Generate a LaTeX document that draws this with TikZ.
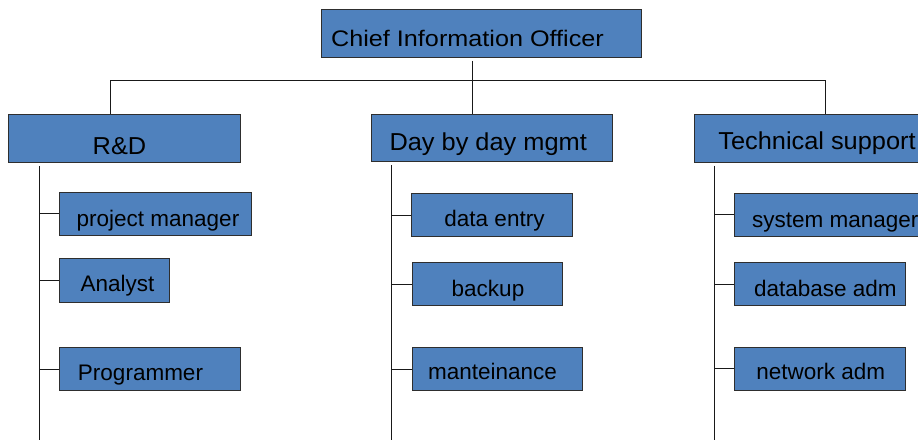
\documentclass[tikz,border=0pt]{standalone}
\usepackage{fontspec}
\setmainfont{Liberation Sans}
\newfontfamily\topfont{Liberation Sans}[FakeStretch=1.12]
\newfontfamily\deptfont{Liberation Sans}[FakeStretch=1.035]
\newfontfamily\rolefont{Liberation Sans}
\usetikzlibrary{fit}
\definecolor{boxblue}{HTML}{4F81BD}
\definecolor{boxedge}{HTML}{2E2E2E}
\tikzset{
  orgbox/.style={draw=boxedge, line width=1bp, fill=boxblue, inner sep=0pt},
  link/.style={draw=black!90, line width=1bp},
  toptext/.style={anchor=base, inner sep=0pt, font=\topfont\fontsize{22.5bp}{27bp}\selectfont},
  depttext/.style={anchor=base, inner sep=0pt, font=\deptfont\fontsize{24.5bp}{29bp}\selectfont},
  roletext/.style={anchor=base, inner sep=0pt, font=\rolefont\fontsize{22.5bp}{27bp}\selectfont},
}
\begin{document}
\begin{tikzpicture}[x=1bp, y=-1bp]
\clip (0,0) rectangle (918,440);
\fill[white] (0,0) rectangle (918,440);

% reporting lines
\coordinate (trunk) at (472,81);
\coordinate (rdjoin) at (110,81);
\coordinate (techjoin) at (825,81);
\coordinate (rdspine) at (39,440);
\coordinate (dayspine) at (391.7,440);
\coordinate (techspine) at (714,440);

% boxes
\node[orgbox, fit={(321.7,10) (641.7,57.3)}] (cio) {};
\node[orgbox, fit={(8.3,115) (240,162.3)}] (rd) {};
\node[orgbox, fit={(371.7,115) (612.3,161.7)}] (day) {};
\node[orgbox, fit={(694,114.7) (940,162.3)}] (tech) {};

\node[orgbox, fit={(59.3,192.3) (251.7,235.3)}] (pm) {};
\node[orgbox, fit={(59.3,259) (169,302.3)}] (an) {};
\node[orgbox, fit={(59.3,347.7) (240,391)}] (pg) {};

\node[orgbox, fit={(411.7,194) (572.3,236.7)}] (de) {};
\node[orgbox, fit={(412,262.7) (562,306)}] (bk) {};
\node[orgbox, fit={(412,347.7) (582,390.7)}] (mt) {};

\node[orgbox, fit={(734,193.3) (940,236.7)}] (sm) {};
\node[orgbox, fit={(734,262.7) (905,306)}] (db) {};
\node[orgbox, fit={(734,347.3) (905,390.7)}] (nw) {};

% connectors
\draw[link] ([yshift=-3bp]cio.south -| trunk) -- (day.north -| trunk);
\draw[link] (rd.north -| rdjoin) -- (rdjoin) -- (techjoin) -- (tech.north -| techjoin);

\draw[link] ([yshift=-3bp]rd.south -| rdspine) -- (rdspine);
\draw[link] ([yshift=-3bp]day.south -| dayspine) -- (dayspine);
\draw[link] ([yshift=-3bp]tech.south -| techspine) -- (techspine);

\foreach \b in {pm,an,pg} \draw[link] (\b.west -| rdspine) -- (\b.west);
\foreach \b in {de,bk,mt} \draw[link] (\b.west -| dayspine) -- (\b.west);
\foreach \b in {sm,db,nw} \draw[link] (\b.west -| techspine) -- (\b.west);

% labels
\node[toptext] (ciot) at (467.5,47) {Chief Information Officer};
\node[depttext] (rdt) at (119.5,155) {R\&D};
\node[depttext] (dayt) at (488.2,150.7) {Day by day mgmt};
\node[depttext] (techt) at (817,150) {Technical support};

\node[roletext] (pmt) at (158,226.7) {project manager};
\node[roletext] (ant) at (117.5,291.7) {Analyst};
\node[roletext] (pgt) at (140.5,380.7) {Programmer};

\node[roletext] (det) at (494.5,226.7) {data entry};
\node[roletext] (bkt) at (488,296.7) {backup};
\node[roletext] (mtt) at (492.5,380) {manteinance};

\node[roletext, anchor=base west] (smt) at (752,227.7) {system manager};
\node[roletext] (dbt) at (825.3,296.7) {database adm};
\node[roletext] (nwt) at (820.8,380) {network adm};
\end{tikzpicture}
\end{document}
